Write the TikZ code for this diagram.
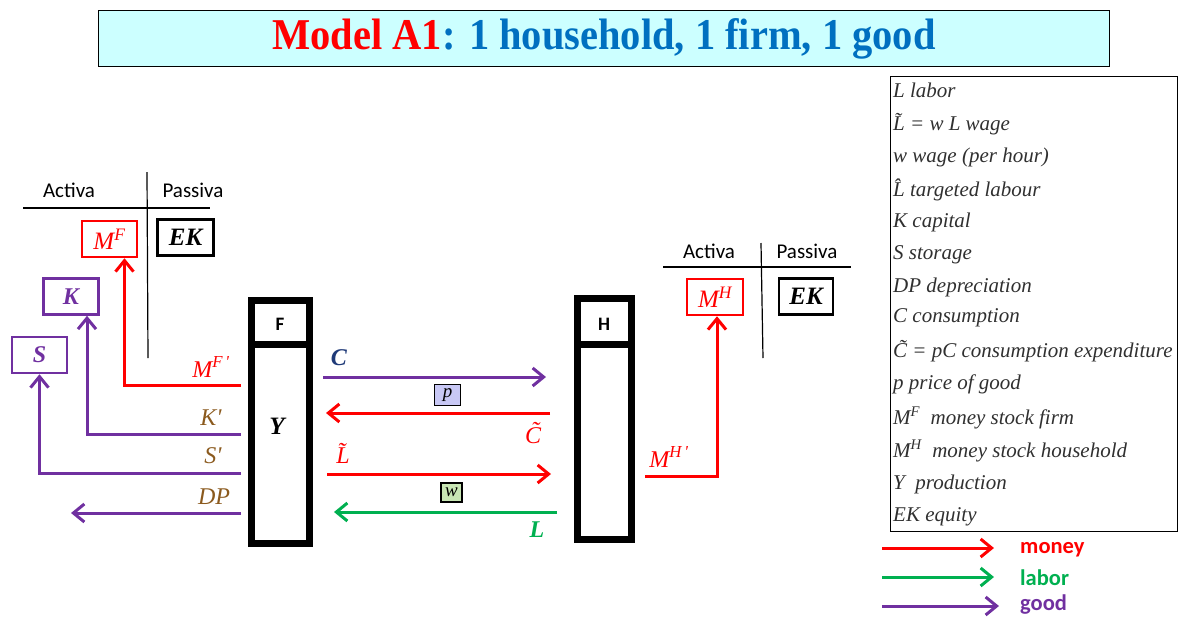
\documentclass[tikz,border=0pt]{standalone}
\usepackage{fontspec}
\setmainfont{Liberation Serif}
\setsansfont{Carlito}
\usetikzlibrary{arrows.meta}
\definecolor{mred}{HTML}{FF0000}
\definecolor{mpurple}{HTML}{7030A0}
\definecolor{mgreen}{HTML}{00B050}
\definecolor{mblue}{HTML}{0070C0}
\definecolor{mcyan}{HTML}{CCFFFF}
\definecolor{mbrown}{HTML}{8B5A1E}
\definecolor{mnavy}{HTML}{1F3A78}
\definecolor{plav}{HTML}{C8C8F5}
\definecolor{wgreen}{HTML}{C8E6B4}
\definecolor{legtext}{HTML}{303030}
\newcommand\fs[1]{\fontsize{#1}{#1}\selectfont}
\newcommand\prm{\textquotesingle}
\tikzset{
  flow/.style={line width=3pt, -{Straight Barb[length=11pt,width=18pt]}},
  acct/.style={line width=1.2pt, black},
  stock/.style={draw, line width=2.5pt, minimum width=55pt, minimum height=36pt, inner sep=0pt},
  acctlabel/.style={font=\sffamily\fs{21}, inner sep=0pt},
  lab/.style={font=\itshape\fs{24}, inner sep=0pt},
  agent/.style={draw, line width=7pt, inner sep=0pt},
  legline/.style={anchor=west, inner sep=0pt, font=\itshape\fs{21}, text=legtext},
  legkey/.style={anchor=west, inner sep=0pt, font=\sffamily\bfseries\fs{22.5}},
  pricebox/.style={draw, line width=1.3pt, inner sep=0pt, font=\itshape\fs{19}},
}
\begin{document}
\begin{tikzpicture}[x=1pt,y=-1pt]
\useasboundingbox (0,0) rectangle (1184,619);

% title
\node[draw, line width=1.5pt, fill=mcyan, minimum width=1011pt, minimum height=56pt, inner sep=0pt] (title) at (604,38.5)
  {\scalebox{0.92}[1]{\bfseries\fs{44}\textcolor{mred}{Model A1}\textcolor{mblue}{: 1 household, 1 firm, 1 good}}};

% left T-account
\node[acctlabel] (actF) at (69,190) {Activa};
\node[acctlabel] (pasF) at (193,190) {Passiva};
\coordinate (tFl) at (23,208);
\coordinate (tFr) at (210,208);
\coordinate (tFt) at (147,172);
\coordinate (tFb) at (148,358);
\draw[acct] (tFl) -- (tFr);
\draw[acct] (tFt) -- (tFb);
\node[stock, draw=mred, text=mred, font=\itshape\fs{25}] (MF) at (109.5,239) {M\textsuperscript{F}};
\node[stock, draw=black, font=\bfseries\itshape\fs{25}, minimum width=56pt] (EKF) at (185.5,237.5) {EK};
\node[stock, draw=mpurple, text=mpurple, font=\bfseries\itshape\fs{24}] (K) at (71,296.5) {K};
\node[stock, draw=mpurple, text=mpurple, font=\bfseries\itshape\fs{24}] (S) at (39.5,355) {S};

% right T-account
\node[acctlabel] (actH) at (709,251) {Activa};
\node[acctlabel] (pasH) at (807,251) {Passiva};
\coordinate (tHl) at (663,267);
\coordinate (tHr) at (851,267);
\coordinate (tHt) at (761,243);
\coordinate (tHb) at (763,358);
\draw[acct] (tHl) -- (tHr);
\draw[acct] (tHt) -- (tHb);
\node[stock, draw=mred, text=mred, font=\itshape\fs{25}, minimum width=56pt] (MH) at (715,297) {M\textsuperscript{H}};
\node[stock, draw=black, font=\bfseries\itshape\fs{25}, minimum width=54pt] (EKH) at (806,296.5) {EK};

% agents
\node[agent, minimum width=57.5pt, minimum height=242.5pt] (F) at (280.5,422) {};
\draw[line width=7pt] (F.north west |- 0,344) coordinate (Fd1) -- (F.north east |- 0,344) coordinate (Fd2);
\node[font=\sffamily\bfseries\fs{19}] (Flab) at (280,324) {F};
\node[font=\bfseries\itshape\fs{25}] (Ylab) at (277,426) {Y};

\node[agent, minimum width=54pt, minimum height=241pt] (H) at (604.5,419) {};
\draw[line width=7pt] (H.north west |- 0,344) coordinate (Hd1) -- (H.north east |- 0,344) coordinate (Hd2);
\node[font=\sffamily\bfseries\fs{19}] (Hlab) at (604,324) {H};

% flows on the firm's left side
\coordinate (mfs) at (241,385);
\draw[flow, mred] (mfs) -| ([xshift=15pt]MF.south);
\node[lab, text=mred] (mflab) at (211,367) {M\textsuperscript{F\,\prm}};
\coordinate (ks) at (241,434);
\draw[flow, mpurple] (ks) -| ([xshift=16pt]K.south);
\node[lab, text=mbrown] (klab) at (211,418) {K\prm};
\coordinate (ss) at (241,473);
\draw[flow, mpurple] (ss) -| (S.south);
\node[lab, text=mbrown] (slab) at (213,456) {S\prm};
\coordinate (dps) at (241,513);
\coordinate (dpe) at (71,513);
\draw[flow, mpurple] (dps) -- (dpe);
\node[lab, text=mbrown] (dplab) at (214,497) {DP};

% flows between F and H
\coordinate (c1) at (323,377);
\coordinate (c2) at (546,377);
\draw[flow, mpurple] (c1) -- (c2);
\node[lab, text=mnavy, font=\bfseries\itshape\fs{24}] (clab) at (339,358) {C};
\node[pricebox, fill=plav, minimum width=26pt, minimum height=21pt] (pbox) at (447.5,395) {p};
\coordinate (ct1) at (550,413);
\coordinate (ct2) at (326,413);
\draw[flow, mred] (ct1) -- (ct2);
\node[lab, text=mred] (ctlab) at (533,433) {\~C};
\coordinate (lt1) at (327,474);
\coordinate (lt2) at (551,474);
\draw[flow, mred] (lt1) -- (lt2);
\node[lab, text=mred] (ltlab) at (343,453) {\~L};
\node[pricebox, fill=wgreen, minimum width=21pt, minimum height=19pt] (wbox) at (451.5,492.5) {w};
\coordinate (l1) at (557,512);
\coordinate (l2) at (334,512);
\draw[flow, mgreen] (l1) -- (l2);
\node[lab, text=mgreen, font=\bfseries\itshape\fs{24}] (llab) at (537,530) {L};

% household money
\coordinate (mhs) at (645,476);
\draw[flow, mred] (mhs) -| ([xshift=2pt]MH.south);
\node[lab, text=mred] (mhlab) at (669,457) {M\textsuperscript{H\,\prm}};

% legend
\node[draw, line width=1.2pt, minimum width=287pt, minimum height=455pt, anchor=north west, inner sep=0pt] (legend) at (890,76) {};
\node[legline] (g1) at (893,90) {L labor};
\node[legline] (g2) at (893,124) {\~L = w L wage};
\node[legline] (g3) at (893,157) {w wage (per hour)};
\node[legline] (g4) at (893,190) {\^L targeted labour};
\node[legline] (g5) at (893,222) {K capital};
\node[legline] (g6) at (893,255) {S storage};
\node[legline] (g7) at (893,287) {DP depreciation};
\node[legline] (g8) at (893,318) {C consumption};
\node[legline] (g9) at (893,351) {\~C = pC consumption expenditure};
\node[legline] (g10) at (893,384) {p price of good};
\node[legline] (g11) at (893,418) {M\textsuperscript{F}\enspace money stock firm};
\node[legline] (g12) at (893,451) {M\textsuperscript{H}\enspace money stock household};
\node[legline] (g13) at (893,484) {Y\enspace production};
\node[legline] (g14) at (893,517) {EK equity};

\coordinate (k1a) at (882,548);
\coordinate (k1b) at (994,548);
\draw[flow, mred] (k1a) -- (k1b);
\node[legkey, text=mred] (k1) at (1020,550) {money};
\coordinate (k2a) at (882,577);
\coordinate (k2b) at (994,577);
\draw[flow, mgreen] (k2a) -- (k2b);
\node[legkey, text=mgreen] (k2) at (1020,578) {labor};
\coordinate (k3a) at (882,606);
\coordinate (k3b) at (999,606);
\draw[flow, mpurple] (k3a) -- (k3b);
\node[legkey, text=mpurple] (k3) at (1020,605) {good};
\end{tikzpicture}
\end{document}
